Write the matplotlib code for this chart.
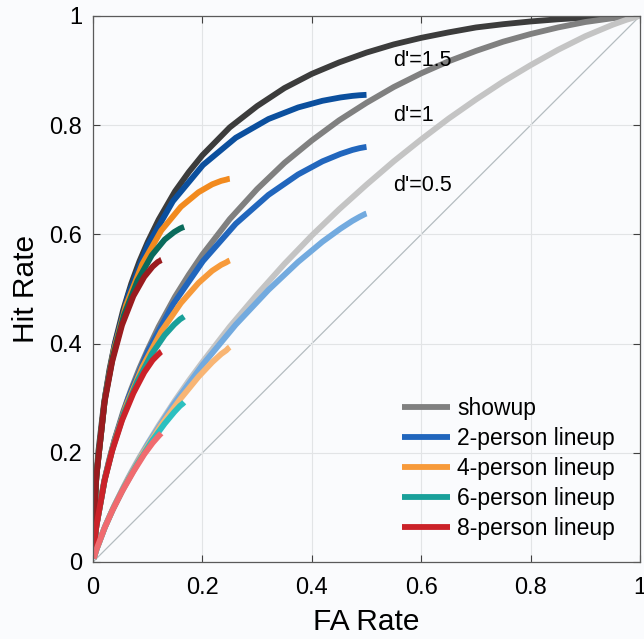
import matplotlib
matplotlib.use('Agg')
import matplotlib.pyplot as plt

plt.rcParams['font.family'] = ['Liberation Sans', 'DejaVu Sans']

# showup ROC, one curve per d'
fa_showup = [0.00135, 0.0025, 0.005, 0.01, 0.02, 0.03, 0.04, 0.055, 0.07, 0.085,
             0.1, 0.12, 0.15, 0.175, 0.2, 0.25, 0.3, 0.35, 0.4, 0.45,
             0.5, 0.55, 0.6, 0.65, 0.7, 0.75, 0.8, 0.85, 0.9, 0.95, 0.975, 0.99865]
hit_showup_15 = [0.067, 0.0956, 0.141, 0.204, 0.290, 0.352, 0.401, 0.461, 0.510, 0.551,
                 0.586, 0.627, 0.679, 0.714, 0.745, 0.796, 0.835, 0.868, 0.894, 0.915,
                 0.933, 0.948, 0.960, 0.970, 0.979, 0.985, 0.990, 0.994, 0.997, 0.999, 0.9997, 1.0]
hit_showup_10 = [0.0228, 0.0354, 0.0575, 0.0924, 0.146, 0.189, 0.226, 0.275, 0.317, 0.355,
                 0.389, 0.431, 0.486, 0.526, 0.563, 0.628, 0.683, 0.731, 0.772, 0.809,
                 0.841, 0.870, 0.895, 0.917, 0.936, 0.953, 0.967, 0.979, 0.989, 0.996, 0.9985, 1.0]
hit_showup_05 = [0.0062, 0.0105, 0.019, 0.034, 0.060, 0.0836, 0.105, 0.136, 0.165, 0.192,
                 0.217, 0.250, 0.296, 0.332, 0.366, 0.431, 0.490, 0.546, 0.598, 0.646,
                 0.691, 0.734, 0.774, 0.812, 0.847, 0.880, 0.910, 0.938, 0.963, 0.984, 0.993, 1.0]

# 2-person lineup
fa_2 = [0.00135, 0.0062, 0.0225, 0.0393, 0.0646, 0.1001, 0.1461, 0.2010, 0.2610, 0.3208, 0.3750, 0.4195, 0.4524, 0.4743, 0.4874, 0.4978, 0.5]
hit_2_15 = [0.0667, 0.1581, 0.3059, 0.3959, 0.4896, 0.5801, 0.6608, 0.7270, 0.7770, 0.8113, 0.8325, 0.8447, 0.8508, 0.8537, 0.8549, 0.8555, 0.8556]
hit_2_10 = [0.0227, 0.0665, 0.1570, 0.2229, 0.3004, 0.3853, 0.4714, 0.5511, 0.6195, 0.6724, 0.7098, 0.7338, 0.7474, 0.7547, 0.7580, 0.7599, 0.7602]
hit_2_05 = [0.0062, 0.0227, 0.0660, 0.1037, 0.1536, 0.2159, 0.2870, 0.3620, 0.4347, 0.4984, 0.5496, 0.5866, 0.6105, 0.6248, 0.6322, 0.6375, 0.6382]

# 4-person lineup
fa_4 = [0.00135, 0.00615, 0.0220, 0.0377, 0.0604, 0.0901, 0.1248, 0.1606, 0.1929, 0.2179, 0.2344, 0.2435, 0.2477, 0.25]
hit_4_15 = [0.0666, 0.1573, 0.3012, 0.3857, 0.4700, 0.5455, 0.6071, 0.6505, 0.6772, 0.6917, 0.6981, 0.7003, 0.7016, 0.7019]
hit_4_10 = [0.0227, 0.0662, 0.1541, 0.2160, 0.2856, 0.3566, 0.4221, 0.4742, 0.5111, 0.5334, 0.5443, 0.5487, 0.5513, 0.5522]
hit_4_05 = [0.0062, 0.0225, 0.0646, 0.1000, 0.1447, 0.1968, 0.2508, 0.2997, 0.3393, 0.3659, 0.3810, 0.3875, 0.3918, 0.3934]

# 6-person lineup
fa_6 = [0.00135, 0.00612, 0.0215, 0.0363, 0.0566, 0.0814, 0.1076, 0.1310, 0.1485, 0.1590, 0.1641, 0.1660, 0.1666]
hit_6_15 = [0.0665, 0.1566, 0.2967, 0.3760, 0.4520, 0.5152, 0.5619, 0.5905, 0.6044, 0.6106, 0.6129, 0.6133, 0.6135]
hit_6_10 = [0.0227, 0.0658, 0.1513, 0.2094, 0.2721, 0.3314, 0.3814, 0.4156, 0.4350, 0.4445, 0.4478, 0.4490, 0.4494]
hit_6_05 = [0.0062, 0.0224, 0.0632, 0.0965, 0.1366, 0.1801, 0.2214, 0.2534, 0.2746, 0.2859, 0.2900, 0.2920, 0.2926]

# 8-person lineup
fa_8 = [0.00134, 0.00607, 0.0210, 0.0349, 0.0531, 0.0738, 0.0936, 0.1090, 0.1185, 0.1229, 0.1245, 0.1250]
hit_8_15 = [0.0665, 0.1560, 0.2920, 0.3665, 0.4340, 0.4870, 0.5220, 0.5410, 0.5495, 0.5518, 0.5533, 0.5535]
hit_8_10 = [0.0227, 0.0654, 0.1485, 0.2031, 0.2595, 0.3092, 0.3472, 0.3697, 0.3794, 0.3835, 0.3851, 0.3854]
hit_8_05 = [0.0062, 0.0223, 0.0619, 0.0931, 0.1292, 0.1655, 0.1972, 0.2181, 0.2290, 0.2339, 0.2352, 0.2357]

labels = ['showup', '2-person lineup', '4-person lineup', '6-person lineup', '8-person lineup']
dprime_labels = ["d'=1.5", "d'=1", "d'=0.5"]
tick_vals = [0, 0.2, 0.4, 0.6, 0.8, 1]
tick_text = ['0', '0.2', '0.4', '0.6', '0.8', '1']

curves = [
    (fa_showup, [hit_showup_15, hit_showup_10, hit_showup_05], ['#3c3c3c', '#808080', '#c4c4c4']),
    (fa_2, [hit_2_15, hit_2_10, hit_2_05], ['#0b4f9e', '#2166bd', '#72aadf']),
    (fa_4, [hit_4_15, hit_4_10, hit_4_05], ['#f28a1e', '#f79a3a', '#f8b574']),
    (fa_6, [hit_6_15, hit_6_10, hit_6_05], ['#0a6b5c', '#19a09a', '#2cc0c0']),
    (fa_8, [hit_8_15, hit_8_10, hit_8_05], ['#9a1b1e', '#cb2229', '#f06b6f']),
]

bg = '#fafbfd'
fig = plt.figure(figsize=(6.44, 6.39), dpi=100, facecolor=bg)
ax = fig.add_axes([93/644, 1 - 562/639, 547/644, 546/639], facecolor=bg)

ax.plot([0, 1], [0, 1], color='#b4bcc0', lw=0.9, zorder=1)

handles = []
for (fa, hits, colors), lab in zip(curves, labels):
    for i, (h, c) in enumerate(zip(hits, colors)):
        ln, = ax.plot(fa, h, color=c, lw=4.2, solid_capstyle='butt', solid_joinstyle='round', zorder=2)
        if i == 1:
            ln.set_label(lab)
            handles.append(ln)

ax.text(0.548, 0.919, dprime_labels[0], fontsize=15.5, va='center')
ax.text(0.548, 0.818, dprime_labels[1], fontsize=15.5, va='center')
ax.text(0.548, 0.690, dprime_labels[2], fontsize=15.5, va='center')

ax.set_xlim(0, 1)
ax.set_ylim(0, 1)
ax.set_xticks(tick_vals)
ax.set_xticklabels(tick_text)
ax.set_yticks(tick_vals)
ax.set_yticklabels(tick_text)
ax.tick_params(direction='in', length=5, width=0.8, color='#404040', labelsize=17,
               top=True, right=True)
ax.tick_params(axis='x', pad=11)
ax.tick_params(axis='y', pad=8)
ax.grid(True, color='#e2e4e6', lw=0.8, zorder=0)
for s in ax.spines.values():
    s.set_color('#5a5a5a')
    s.set_linewidth(0.9)

ax.set_xlabel('FA Rate', fontsize=21.5, labelpad=6.5)
ax.set_ylabel('Hit Rate', fontsize=21.5, labelpad=6.5)

ax.legend(handles=handles, loc='lower left', bbox_to_anchor=(0.536, 0.011), frameon=False,
          fontsize=16.5, handlelength=2.1, handletextpad=0.3, labelspacing=0.31, borderpad=0.2)

fig.savefig('out.png', dpi=100, facecolor=bg)
